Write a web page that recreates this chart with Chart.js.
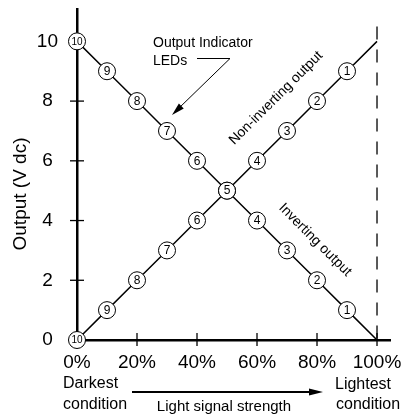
<!DOCTYPE html>
<html>
<head>
<meta charset="utf-8">
<script src="https://cdn.jsdelivr.net/npm/chart.js@4"></script>
<style>
html, body { margin: 0; padding: 0; background: #fff; }
</style>
</head>
<body>
<canvas id="ledChart" width="409" height="415"></canvas>
<script>
"use strict";

// Data - ljusnivå (%) och utspänning (V dc)
const lightPercent = [0, 10, 20, 30, 40, 50, 60, 70, 80, 90, 100];
const nonInvertingVolts = [0, 1, 2, 3, 4, 5, 6, 7, 8, 9, 10];
const invertingVolts = [10, 9, 8, 7, 6, 5, 4, 3, 2, 1, 0];
const ledNumbers = ["10", "9", "8", "7", "6", "5", "4", "3", "2", "1", ""];
const xTicks = [0, 20, 40, 60, 80, 100];
const yTicks = [0, 2, 4, 6, 8, 10];
const limitPercent = [100, 100];
const limitVolts = [10.5, 0];

const ink = "#000";
const fontFam = '"Liberation Sans", Arial, Helvetica, sans-serif';

function toPoints(xs, ys) {
    return xs.map((x, i) => ({ x: x, y: ys[i] }));
}

function arrowHead(ctx, x1, y1, x2, y2, len, half) {
    const a = Math.atan2(y2 - y1, x2 - x1);
    ctx.beginPath();
    ctx.moveTo(x2, y2);
    ctx.lineTo(x2 - len * Math.cos(a) + half * Math.sin(a), y2 - len * Math.sin(a) - half * Math.cos(a));
    ctx.lineTo(x2 - len * Math.cos(a) - half * Math.sin(a), y2 - len * Math.sin(a) + half * Math.cos(a));
    ctx.closePath();
    ctx.fill();
}

// plugin för tickstreck, siffror i cirklarna och texter
const ledPlugin = {
    id: "ledLabels",
    beforeDatasetsDraw(chart) {
        const ctx = chart.ctx;
        const xs = chart.scales.x;
        const ys = chart.scales.y;
        ctx.save();
        ctx.strokeStyle = ink;
        ctx.lineWidth = 1.3;
        yTicks.forEach(v => {
            if (v === 0) return;
            const y = ys.getPixelForValue(v);
            ctx.beginPath();
            ctx.moveTo(xs.left - 7, y);
            ctx.lineTo(xs.left + 7, y);
            ctx.stroke();
        });
        xTicks.forEach(v => {
            if (v === 0) return;
            const x = xs.getPixelForValue(v);
            ctx.beginPath();
            ctx.moveTo(x, ys.bottom - 7);
            ctx.lineTo(x, ys.bottom + 6);
            ctx.stroke();
        });
        ctx.restore();
    },
    afterDatasetsDraw(chart) {
        const ctx = chart.ctx;
        const done = {};
        ctx.save();
        ctx.fillStyle = ink;
        ctx.textAlign = "center";
        ctx.textBaseline = "middle";
        [0, 1].forEach(d => {
            chart.getDatasetMeta(d).data.forEach((pt, i) => {
                const txt = ledNumbers[i];
                const key = Math.round(pt.x) + "," + Math.round(pt.y);
                if (!txt || done[key]) return;
                done[key] = true;
                ctx.font = (txt.length > 1 ? "10px " : "12px ") + fontFam;
                ctx.fillText(txt, pt.x, pt.y + 0.5);
            });
        });
        ctx.restore();
    },
    afterDraw(chart) {
        const ctx = chart.ctx;
        ctx.save();
        ctx.fillStyle = ink;
        ctx.strokeStyle = ink;

        // y-axelns titel
        ctx.font = "19px " + fontFam;
        ctx.textAlign = "center";
        ctx.textBaseline = "middle";
        ctx.save();
        ctx.translate(21, 194);
        ctx.rotate(-Math.PI / 2);
        ctx.fillText("Output (V dc)", 0, 0);
        ctx.restore();

        // Output Indicator LEDs + pil
        ctx.font = "14px " + fontFam;
        ctx.textAlign = "left";
        ctx.textBaseline = "alphabetic";
        ctx.fillText("Output Indicator", 153, 47);
        ctx.fillText("LEDs", 153, 65);
        ctx.lineWidth = 1;
        ctx.beginPath();
        ctx.moveTo(197, 58.5);
        ctx.lineTo(230, 58.5);
        ctx.lineTo(178, 109);
        ctx.stroke();
        arrowHead(ctx, 230, 58.5, 172, 115, 13, 3.5);

        // lutande texter
        ctx.textAlign = "center";
        ctx.textBaseline = "middle";
        ctx.save();
        ctx.translate(276, 98);
        ctx.rotate(-Math.PI / 4);
        ctx.fillText("Non-inverting output", 0, 0);
        ctx.restore();
        ctx.save();
        ctx.translate(315, 240);
        ctx.rotate(Math.PI / 4);
        ctx.fillText("Inverting output", 0, 0);
        ctx.restore();

        // text under x-axeln
        ctx.font = "16px " + fontFam;
        ctx.textAlign = "left";
        ctx.textBaseline = "alphabetic";
        ctx.fillText("Darkest", 63, 388);
        ctx.fillText("condition", 63, 409);
        ctx.fillText("Lightest", 335, 389);
        ctx.fillText("condition", 336, 409);
        ctx.font = "15px " + fontFam;
        ctx.textAlign = "center";
        ctx.fillText("Light signal strength", 224, 411);

        ctx.lineWidth = 2;
        ctx.beginPath();
        ctx.moveTo(132, 392);
        ctx.lineTo(312, 392);
        ctx.stroke();
        arrowHead(ctx, 132, 392, 323, 392, 14, 3.5);
        ctx.restore();
    }
};

const pointSizes = ledNumbers.map(n => (n ? 8.5 : 0));

const chartEl = document.getElementById("ledChart");

new Chart(chartEl, {
    type: "scatter",
    data: {
        datasets: [
            {
                label: "Inverting output",
                data: toPoints(lightPercent, invertingVolts),
                showLine: true,
                clip: false,
                borderColor: ink,
                borderWidth: 1.5,
                pointRadius: pointSizes,
                pointBackgroundColor: "#fff",
                pointBorderColor: ink,
                pointBorderWidth: 1
            },
            {
                label: "Non-inverting output",
                data: toPoints(lightPercent, nonInvertingVolts),
                showLine: true,
                clip: false,
                borderColor: ink,
                borderWidth: 1.5,
                pointRadius: pointSizes,
                pointBackgroundColor: "#fff",
                pointBorderColor: ink,
                pointBorderWidth: 1
            },
            {
                label: "100%",
                data: toPoints(limitPercent, limitVolts),
                showLine: true,
                clip: false,
                borderColor: ink,
                borderWidth: 1.3,
                borderDash: [13, 10],
                pointRadius: 0
            }
        ]
    },
    options: {
        responsive: false,
        animation: false,
        layout: { padding: { top: 8, right: 19, left: 0, bottom: 0 } },
        plugins: {
            legend: { display: false },
            tooltip: { enabled: false }
        },
        scales: {
            x: {
                type: "linear",
                min: 0,
                max: 104.33,
                bounds: "data",
                afterBuildTicks: s => { s.ticks = xTicks.map(v => ({ value: v })); },
                afterFit: s => {
                    s.height = 75;
                    s.paddingLeft = 0;
                    s.paddingRight = 0;
                },
                grid: { display: false, drawTicks: false },
                border: { display: true, color: ink, width: 2.5 },
                ticks: {
                    color: ink,
                    font: { family: fontFam, size: 19 },
                    padding: 11,
                    maxRotation: 0,
                    autoSkip: false,
                    callback: v => v + "%"
                }
            },
            y: {
                type: "linear",
                min: 0,
                max: 11.067,
                bounds: "data",
                afterBuildTicks: s => { s.ticks = yTicks.map(v => ({ value: v })); },
                afterFit: s => {
                    s.width = 77;
                    s.paddingTop = 0;
                    s.paddingBottom = 0;
                },
                grid: { display: false, drawTicks: false },
                border: { display: true, color: ink, width: 2.5 },
                ticks: {
                    color: ink,
                    font: { family: fontFam, size: 19 },
                    padding: 19,
                    crossAlign: "center",
                    autoSkip: false
                }
            }
        }
    },
    plugins: [ledPlugin]
});
</script>
</body>
</html>
